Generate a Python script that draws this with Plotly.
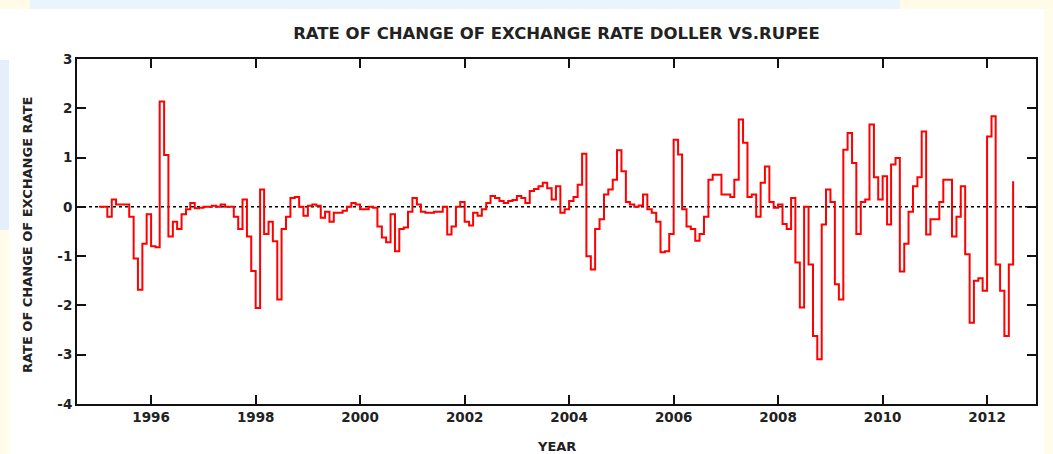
import plotly.graph_objects as go
import pandas as pd

# ---- data (monthly rate of change, Jan 1995 onward) ----
start_month = "1995-01-01"
rate_change = [
    0.0, 0.0, -0.2, 0.15, 0.05, 0.05, 0.05, -0.2, -1.05, -1.68, -0.75, -0.15,
    -0.8, -0.82, 2.14, 1.05, -0.6, -0.3, -0.45, -0.15, -0.05, 0.08, -0.03, -0.02,
    0.0, 0.0, 0.02, 0.0, 0.05, 0.0, 0.0, -0.2, -0.45, 0.15, -0.6, -1.3,
    -2.05, 0.35, -0.55, -0.3, -0.7, -1.88, -0.45, -0.2, 0.18, 0.2, 0.0, -0.18,
    0.02, 0.05, 0.02, -0.22, -0.1, -0.3, -0.12, -0.12, -0.08, 0.0, 0.08, 0.05,
    -0.05, -0.05, 0.0, -0.02, -0.4, -0.62, -0.72, -0.15, -0.9, -0.45, -0.42, -0.1,
    0.18, 0.05, -0.1, -0.12, -0.12, -0.1, -0.1, 0.0, -0.56, -0.4, 0.0, 0.1,
    -0.3, -0.38, -0.12, -0.18, -0.05, 0.08, 0.22, 0.18, 0.12, 0.08, 0.12, 0.14,
    0.22, 0.18, 0.08, 0.32, 0.36, 0.42, 0.49, 0.38, 0.15, 0.42, -0.12, -0.05,
    0.12, 0.2, 0.45, 1.08, -1.0, -1.27, -0.45, -0.25, 0.25, 0.35, 0.55, 1.15,
    0.72, 0.1, 0.05, 0.0, 0.03, 0.25, -0.05, -0.12, -0.3, -0.92, -0.9, -0.55,
    1.36, 1.06, -0.05, -0.4, -0.45, -0.69, -0.55, -0.2, 0.55, 0.65, 0.65, 0.25,
    0.25, 0.2, 0.55, 1.77, 1.3, 0.2, 0.25, -0.2, 0.49, 0.82, 0.1, -0.02,
    0.05, -0.35, -0.45, 0.18, -1.13, -2.04, 0.0, -1.17, -2.62, -3.09, -0.36, 0.35,
    0.1, -1.57, -1.88, 1.16, 1.5, 0.89, -0.55, 0.1, 0.15, 1.67, 0.6, 0.15,
    0.62, -0.36, 0.86, 0.99, -1.31, -0.75, -0.1, 0.42, 0.6, 1.53, -0.56, -0.25,
    -0.25, 0.1, 0.55, 0.55, -0.6, -0.2, 0.42, -0.96, -2.35, -1.5, -1.45, -1.7,
    1.43, 1.84, -1.17, -1.7, -2.62, -1.17, 0.52,
]
dates = pd.date_range(start_month, periods=len(rate_change), freq="MS")

y_ticks = [3, 2, 1, 0, -1, -2, -3, -4]
y_tick_text = ["3", "2", "1", "0", "-1", "-2", "-3", "-4"]

title_text = "RATE OF CHANGE OF EXCHANGE RATE DOLLER VS.RUPEE"
y_title = "RATE OF CHANGE OF EXCHANGE RATE"
x_title = "YEAR"

# ---- figure ----
W, H = 1053, 454
L, R, T, B = 77, 17, 59, 50
pw, ph = W - L - R, H - T - B

def px_x(p):
    return (p - L) / pw

def px_y(p):
    return (H - B - p) / ph

fig = go.Figure()
fig.add_trace(go.Scatter(
    x=dates, y=rate_change, mode="lines",
    line=dict(color="#ff0000", width=2, shape="hv"),
    showlegend=False, hoverinfo="skip",
))

font_main = "DejaVu Sans, sans-serif"
tick_font = dict(family=font_main, size=13.5, color="#222222", weight="bold")

shapes = [
    # zero reference line
    dict(type="line", xref="paper", yref="y", x0=0, x1=1, y0=0, y1=0,
         line=dict(color="black", width=1.5, dash="dot"), layer="below"),
    # faint slide decorations around the edges
    dict(type="rect", xref="paper", yref="paper", x0=px_x(30), x1=px_x(900),
         y0=px_y(9), y1=px_y(0), fillcolor="#e9f4fc", line=dict(width=0), layer="below"),
    dict(type="rect", xref="paper", yref="paper", x0=px_x(900), x1=px_x(1053),
         y0=px_y(9), y1=px_y(0), fillcolor="#fffbe6", line=dict(width=0), layer="below"),
    dict(type="rect", xref="paper", yref="paper", x0=px_x(0), x1=px_x(30),
         y0=px_y(9), y1=px_y(0), fillcolor="#fffbe6", line=dict(width=0), layer="below"),
    dict(type="rect", xref="paper", yref="paper", x0=px_x(0), x1=px_x(9),
         y0=px_y(230), y1=px_y(60), fillcolor="#e6eefb", line=dict(width=0), layer="below"),
    dict(type="rect", xref="paper", yref="paper", x0=px_x(0), x1=px_x(9),
         y0=px_y(454), y1=px_y(230), fillcolor="#fffcec", line=dict(width=0), layer="below"),
    dict(type="rect", xref="paper", yref="paper", x0=px_x(1044), x1=px_x(1053),
         y0=px_y(454), y1=px_y(9), fillcolor="#fffcec", line=dict(width=0), layer="below"),
]

annotations = [
    dict(text=y_title, xref="paper", yref="paper", x=px_x(27), y=px_y(235),
         showarrow=False, textangle=-90, xanchor="center", yanchor="middle",
         font=dict(family=font_main, size=13, color="#222222", weight="bold")),
    dict(text=x_title, xref="paper", yref="paper", x=px_x(556), y=px_y(446),
         showarrow=False, xanchor="center", yanchor="middle",
         font=dict(family=font_main, size=13, color="#222222", weight="bold")),
]

fig.update_layout(
    width=W, height=H,
    margin=dict(l=L, r=R, t=T, b=B),
    paper_bgcolor="white", plot_bgcolor="white",
    title=dict(text=title_text, x=0.5, xref="paper", y=1 - 33 / H, yref="container",
               xanchor="center", yanchor="middle",
               font=dict(family=font_main, size=16.5, color="#222222", weight="bold")),
    shapes=shapes, annotations=annotations,
    xaxis=dict(
        type="date", range=["1994-08-01", "2012-12-08"],
        tick0="1996-01-01", dtick="M24", tickformat="%Y",
        ticks="inside", ticklen=9, tickwidth=2, tickcolor="#111111",
        showline=True, linecolor="#111111", linewidth=2, mirror="ticks",
        showgrid=False, zeroline=False, tickfont=tick_font,
    ),
    yaxis=dict(
        range=[-4, 3], tickvals=y_ticks, ticktext=y_tick_text,
        ticks="inside", ticklen=9, tickwidth=2, tickcolor="#111111",
        showline=True, linecolor="#111111", linewidth=2, mirror="ticks",
        showgrid=False, zeroline=False, tickfont=tick_font,
    ),
)

fig.write_html("out.html",
               config={"displayModeBar": False},
               post_script="document.body.style.margin='0px';document.body.style.padding='0px';")
